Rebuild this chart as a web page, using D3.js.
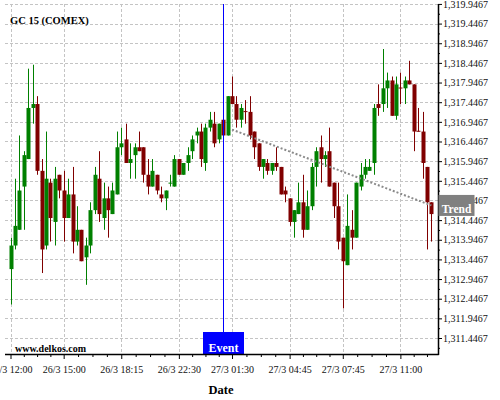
<!DOCTYPE html>
<html><head><meta charset="utf-8">
<script src="https://cdn.jsdelivr.net/npm/d3@7/dist/d3.min.js"></script>
<style>body{margin:0;background:#fff;}svg{display:block;font-family:"Liberation Serif","Times New Roman",serif;}</style>
</head><body>
<script>
const title = "GC 15 (COMEX)";
const openV = [1313.2,1313.8,1314.2,1315.3,1316.0,1317.3,1317.4,1315.7,1313.8,1315.4,
1314.4,1315.6,1315.2,1314.5,1315.1,1313.9,1314.2,1313.5,1313.8,1314.7,
1315.5,1314.5,1315.0,1314.6,1315.1,1316.3,1316.5,1315.9,1316.1,1316.3,
1316.3,1315.6,1315.3,1315.6,1315.1,1315.0,1315.4,1315.3,1316.0,1315.6,
1315.9,1316.2,1316.6,1316.7,1315.9,1316.8,1316.9,1316.5,1317.0,1316.6,
1317.6,1317.4,1317.0,1317.22,1317.2,1316.7,1316.4,1315.8,1315.9,1315.7,
1315.9,1315.8,1315.2,1315.0,1314.4,1314.6,1314.9,1314.2,1314.8,1315.8,
1316.3,1316.0,1316.2,1315.4,1314.8,1314.0,1313.3,1314.2,1314.0,1315.3,
1315.6,1315.7,1315.9,1317.4,1317.4,1317.8,1318.0,1317.1,1317.82,1317.8,
1318.0,1317.9,1316.72,1316.7,1315.8,1314.9];
const highV = [1314.0,1315.5,1316.6,1316.2,1318.3,1318.4,1317.6,1316.0,1316.7,1315.5,
1315.8,1315.6,1315.7,1315.5,1315.8,1314.8,1314.2,1314.0,1314.9,1315.8,
1316.2,1315.4,1315.3,1315.4,1316.7,1316.8,1316.9,1316.4,1316.4,1316.7,
1316.3,1316.0,1316.0,1315.6,1315.3,1315.2,1315.6,1316.1,1316.0,1315.9,
1316.3,1316.6,1316.8,1316.9,1316.9,1317.2,1317.2,1316.9,1317.0,1317.6,
1318.1,1317.6,1317.4,1317.5,1317.6,1316.7,1316.4,1316.0,1316.0,1315.9,
1316.3,1315.8,1315.3,1315.0,1314.7,1315.4,1315.6,1315.2,1315.9,1316.3,
1316.6,1316.2,1316.8,1315.4,1315.4,1314.0,1315.1,1314.7,1315.4,1315.9,
1316.0,1316.0,1317.4,1317.9,1318.8,1318.2,1318.1,1318.1,1318.2,1318.1,
1318.5,1317.9,1317.3,1317.2,1315.8,1314.9];
const lowV = [1312.3,1313.7,1314.2,1314.2,1316.0,1316.9,1315.6,1313.1,1313.7,1313.9,
1313.8,1315.0,1313.9,1314.5,1313.6,1313.8,1313.4,1312.8,1313.6,1314.6,
1314.4,1314.2,1314.0,1314.6,1315.1,1316.1,1315.9,1315.5,1315.5,1316.2,
1315.4,1315.1,1315.3,1315.1,1314.9,1314.7,1315.3,1315.3,1315.6,1315.6,
1315.7,1316.0,1316.4,1315.8,1315.7,1316.7,1316.3,1316.4,1316.6,1316.6,
1317.4,1316.8,1316.8,1316.9,1316.5,1316.0,1315.7,1315.5,1315.6,1315.6,
1315.7,1315.1,1314.9,1314.3,1314.0,1314.6,1314.0,1314.2,1314.7,1315.3,
1315.4,1315.8,1315.3,1314.5,1313.7,1312.2,1313.3,1313.7,1314.0,1315.2,
1315.5,1315.7,1315.6,1317.1,1317.2,1317.3,1317.1,1317.0,1317.4,1317.4,
1317.9,1316.2,1316.7,1315.5,1313.7,1313.9];
const closeV = [1313.8,1314.3,1315.2,1316.1,1317.3,1317.4,1315.7,1313.7,1315.5,1314.5,
1315.5,1315.2,1314.5,1315.1,1313.9,1314.2,1313.4,1313.8,1314.7,1315.6,
1314.6,1315.0,1314.7,1315.2,1316.3,1316.4,1315.9,1316.0,1316.3,1316.2,
1315.6,1315.3,1315.7,1315.2,1315.0,1315.2,1315.4,1316.0,1315.6,1315.9,
1316.1,1316.5,1316.7,1316.0,1316.8,1317.0,1316.4,1316.9,1316.6,1317.6,
1317.4,1317.0,1317.3,1317.2,1316.6,1316.3,1315.8,1316.0,1315.7,1315.9,
1315.8,1315.1,1315.1,1314.4,1314.7,1314.9,1314.2,1314.8,1315.8,1316.2,
1316.0,1316.1,1315.3,1314.8,1313.9,1313.4,1314.3,1314.0,1315.4,1315.6,
1315.8,1315.8,1317.3,1317.3,1317.8,1318.0,1317.1,1317.9,1317.8,1318.0,
1317.9,1316.7,1316.7,1315.9,1314.9,1314.6];
const xTickIndex = [0,12,25,38,50,63,75,88];
const xTickLabels = ["26/3 12:00","26/3 15:00","26/3 18:15","26/3 22:30","27/3 01:30","27/3 04:45","27/3 07:45","27/3 11:00"];
const yTickValues = [1311.4467,1311.9467,1312.4467,1312.9467,1313.4467,1313.9467,1314.4467,1314.9467,1315.4467,
1315.9467,1316.4467,1316.9467,1317.4467,1317.9467,1318.4467,1318.9467,1319.4467,1319.9467];
const eventIndex = 48;
const eventLabel = "Event";
const trendIndex = [50,95];
const trendValue = [1316.75,1314.82];
const trendLabel = "Trend";
const xAxisTitle = "Date";
const watermark = "www.delkos.com";

const W=500,H=400, plotL=5, plotR=438, plotT=4, plotB=354;
const svg = d3.select("body").append("svg").attr("width",W).attr("height",H);
const x = d3.scaleLinear().domain([0,95]).range([10.5,431.4]);
const y = d3.scaleLinear().domain([1311.04,1319.94]).range([plotB,4.2]);
const candles = openV.map((o,i)=>({i,o,h:highV[i],l:lowV[i],c:closeV[i]}));

// grid
const grid = svg.append("g").attr("stroke","#c4c4c4").attr("stroke-dasharray","3,2").attr("stroke-width",1);
grid.selectAll(".hg").data(yTickValues).join("line")
  .attr("x1",plotL).attr("x2",plotR).attr("y1",d=>Math.round(y(d))+0.5).attr("y2",d=>Math.round(y(d))+0.5);
grid.selectAll(".vg").data(xTickIndex).join("line")
  .attr("y1",plotT).attr("y2",plotB).attr("x1",d=>Math.round(x(d))+0.5).attr("x2",d=>Math.round(x(d))+0.5);

// candles
const green="#008000", red="#800000";
const cg = svg.append("g");
cg.selectAll(".wick").data(candles).join("line")
  .attr("x1",d=>Math.round(x(d.i))+0.5).attr("x2",d=>Math.round(x(d.i))+0.5)
  .attr("y1",d=>y(d.h)).attr("y2",d=>y(d.l))
  .attr("stroke",d=>d.c>=d.o?green:red).attr("stroke-width",1);
cg.selectAll(".body").data(candles).join("rect")
  .attr("x",d=>Math.round(x(d.i))-1.5).attr("width",4)
  .attr("y",d=>y(Math.max(d.o,d.c)))
  .attr("height",d=>Math.max(1,y(Math.min(d.o,d.c))-y(Math.max(d.o,d.c))))
  .attr("fill",d=>d.c>=d.o?green:red);

// trend line
svg.append("line")
  .attr("x1",x(trendIndex[0])).attr("y1",y(trendValue[0]))
  .attr("x2",x(trendIndex[1])).attr("y2",y(trendValue[1]))
  .attr("stroke","#8a8a8a").attr("stroke-width",2).attr("stroke-dasharray","2,2");

// event line
const ex = Math.round(x(eventIndex))+0.5;
svg.append("line").attr("x1",ex).attr("x2",ex).attr("y1",plotT).attr("y2",332)
  .attr("stroke","#0000ff").attr("stroke-width",1);
svg.append("rect").attr("x",ex-20.5).attr("y",332).attr("width",41).attr("height",plotB-332).attr("fill","#0000ff");
svg.append("text").attr("x",ex).attr("y",351.5).attr("text-anchor","middle")
  .attr("fill","#fff").attr("font-weight","bold").attr("font-size",12).text(eventLabel);

// axes
const yAxis = d3.axisRight(y).tickValues(yTickValues).tickFormat(d3.format(",.4f")).tickSize(4).tickPadding(1).tickSizeOuter(0);
const ya = svg.append("g").attr("transform",`translate(${plotR},0)`).call(yAxis);
ya.select(".domain").remove();
ya.selectAll("text").attr("font-size",10).attr("fill","#111").attr("font-family","Liberation Serif, serif");
ya.selectAll("line").attr("stroke","#000");
const yMinor = yTickValues.map(v=>v+0.25).filter(v=>v<y.domain()[1]).concat([yTickValues[0]-0.25]);
const yMinorAxis = d3.axisRight(y).tickValues(yMinor).tickFormat("").tickSize(2).tickSizeOuter(0);
const ym = svg.append("g").attr("transform",`translate(${plotR},0)`).call(yMinorAxis);
ym.select(".domain").remove();

const xAxis = d3.axisBottom(x).tickValues(xTickIndex).tickFormat((d,i)=>xTickLabels[i]).tickSize(5).tickPadding(7).tickSizeOuter(0);
const xa = svg.append("g").attr("transform",`translate(0,${plotB})`).call(xAxis);
xa.select(".domain").remove();
xa.selectAll("text").attr("font-size",10).attr("fill","#111").attr("font-family","Liberation Serif, serif");
// minor x ticks at quarters between majors
const xMinor=[];
for(let k=0;k<xTickIndex.length-1;k++){const a=xTickIndex[k],b=xTickIndex[k+1];for(let q=1;q<4;q++)xMinor.push(a+(b-a)*q/4);}
xMinor.push(91,94);
const xm = svg.append("g").attr("transform",`translate(0,${plotB})`).call(d3.axisBottom(x).tickValues(xMinor).tickFormat("").tickSize(3).tickSizeOuter(0));
xm.select(".domain").remove();

// axis lines
svg.append("line").attr("x1",plotL).attr("x2",plotR+0.75).attr("y1",plotB+0.5).attr("y2",plotB+0.5).attr("stroke","#000").attr("stroke-width",1.5);
svg.append("line").attr("x1",plotR+0.5).attr("x2",plotR+0.5).attr("y1",plotT).attr("y2",plotB+1).attr("stroke","#000").attr("stroke-width",1.5);

// trend label
const ty = y(trendValue[1]);
svg.append("rect").attr("x",plotR+0.5).attr("y",ty-10.5).attr("width",36).attr("height",21).attr("fill","#808080");
svg.append("text").attr("x",plotR+18.5).attr("y",ty+8).attr("text-anchor","middle").attr("fill","#fff")
  .attr("font-weight","bold").attr("font-size",11.5).text(trendLabel);

// texts
svg.append("text").attr("x",10).attr("y",24).attr("font-weight","bold").attr("font-size",10.5).attr("fill","#000").text(title);
svg.append("text").attr("x",15).attr("y",352).attr("font-weight","bold").attr("font-size",10).attr("fill","#000").text(watermark);
svg.append("text").attr("x",221).attr("y",394).attr("text-anchor","middle").attr("font-weight","bold").attr("font-size",12.5).attr("fill","#000").text(xAxisTitle);
</script>
</body></html>
